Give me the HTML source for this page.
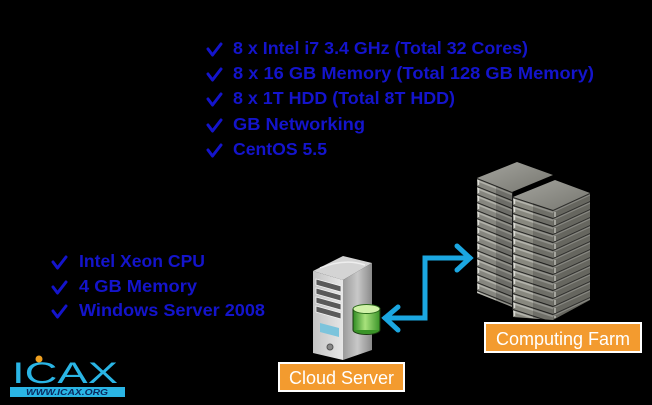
<!DOCTYPE html>
<html><head><meta charset="utf-8"><style>
html,body{margin:0;padding:0;background:#000;width:652px;height:405px;overflow:hidden}
svg{display:block}
</style></head><body>
<svg width="652" height="405" viewBox="0 0 652 405" xmlns="http://www.w3.org/2000/svg">
<defs>
<pattern id="slatA" patternUnits="userSpaceOnUse" x="0" y="3.2" width="300" height="8" patternTransform="skewY(21.8)">
<rect width="300" height="8" fill="#86867f"/>
<rect y="0" width="300" height="1.3" fill="#262624"/>
<rect y="1.3" width="300" height="2" fill="#b2b2aa"/>
</pattern>
<pattern id="slatB" patternUnits="userSpaceOnUse" x="0" y="6.3" width="300" height="8" patternTransform="skewY(18)">
<rect width="300" height="8" fill="#88887f"/>
<rect y="0" width="300" height="1.3" fill="#262624"/>
<rect y="1.3" width="300" height="2" fill="#b4b4ac"/>
</pattern>
<pattern id="slatR" patternUnits="userSpaceOnUse" x="0" y="0.4" width="300" height="8" patternTransform="skewY(-24.7)">
<rect width="300" height="8" fill="#66665f"/>
<rect y="0" width="300" height="1.2" fill="#2e2e2c"/>
<rect y="1.2" width="300" height="1.3" fill="#8a8a84"/>
</pattern>
<linearGradient id="topA" x1="0" y1="0" x2="1" y2="1">
<stop offset="0" stop-color="#a4a49e"/><stop offset="1" stop-color="#76766f"/>
</linearGradient>
<linearGradient id="front" x1="0" y1="0" x2="1" y2="0">
<stop offset="0" stop-color="#c4c4c4"/><stop offset="1" stop-color="#e6e6e6"/>
</linearGradient>
<linearGradient id="side" x1="0" y1="0" x2="1" y2="0">
<stop offset="0" stop-color="#9a9a9a"/><stop offset="0.5" stop-color="#c8c8c8"/><stop offset="1" stop-color="#8a8a8a"/>
</linearGradient>
<linearGradient id="cyl" x1="0" y1="0" x2="1" y2="0">
<stop offset="0" stop-color="#2e8a22"/><stop offset="0.45" stop-color="#a8e27c"/><stop offset="1" stop-color="#3a9428"/>
</linearGradient>
</defs>

<!-- Top list -->
<g fill="#1414cc" font-family="'Liberation Sans', sans-serif" font-weight="bold" font-size="17.5">
<text x="233" y="54" textLength="295" lengthAdjust="spacingAndGlyphs">8 x Intel i7 3.4 GHz (Total 32 Cores)</text>
<text x="233" y="79" textLength="361" lengthAdjust="spacingAndGlyphs">8 x 16 GB Memory (Total 128 GB Memory)</text>
<text x="233" y="104" textLength="222" lengthAdjust="spacingAndGlyphs">8 x 1T HDD (Total 8T HDD)</text>
<text x="233" y="130" textLength="132" lengthAdjust="spacingAndGlyphs">GB Networking</text>
<text x="233" y="155" textLength="94" lengthAdjust="spacingAndGlyphs">CentOS 5.5</text>
</g>
<g fill="none" stroke="#1414cc" stroke-width="3" stroke-linecap="round" stroke-linejoin="round">
<path d="M208,49 L212.5,55 L221,44"/>
<path d="M208,74 L212.5,80 L221,69"/>
<path d="M208,99 L212.5,105 L221,94"/>
<path d="M208,125 L212.5,131 L221,120"/>
<path d="M208,150 L212.5,156 L221,145"/>
</g>

<!-- Bottom-left list -->
<g fill="#1414cc" font-family="'Liberation Sans', sans-serif" font-weight="bold" font-size="17.5">
<text x="79" y="267" textLength="126" lengthAdjust="spacingAndGlyphs">Intel Xeon CPU</text>
<text x="79" y="292" textLength="118" lengthAdjust="spacingAndGlyphs">4 GB Memory</text>
<text x="79" y="316" textLength="186" lengthAdjust="spacingAndGlyphs">Windows Server 2008</text>
</g>
<g fill="none" stroke="#1414cc" stroke-width="3" stroke-linecap="round" stroke-linejoin="round">
<path d="M53,262 L57.5,268 L66,257"/>
<path d="M53,287 L57.5,293 L66,282"/>
<path d="M53,311 L57.5,317 L66,306"/>
</g>

<!-- Logo -->
<text x="12" y="383" textLength="106" lengthAdjust="spacingAndGlyphs" font-family="'Liberation Sans', sans-serif" font-size="30" fill="#2ab5e5">ICAX</text>
<circle cx="39" cy="359" r="3.5" fill="#f0a020"/>
<rect x="10" y="387" width="115" height="10" fill="#2ab5e5"/>
<text x="26" y="395" textLength="82" lengthAdjust="spacingAndGlyphs" font-family="'Liberation Sans', sans-serif" font-size="8" font-weight="bold" font-style="italic" fill="#0a2a60">WWW.ICAX.ORG</text>

<!-- Rack stack A (back) -->
<polygon points="477,178 517,162 553,175 512,192" fill="url(#topA)"/>
<polygon points="477,178 512,192 512,307 477,293" fill="url(#slatA)"/>
<polygon points="496,186 512,192 512,307 496,301" fill="#000" opacity="0.18"/>
<line x1="478.5" y1="180" x2="478.5" y2="293" stroke="#d8d8d2" stroke-width="1.5" stroke-dasharray="5,3"/>
<!-- Rack stack B (front) -->
<polygon points="513,197 555,180 590,193 553,210" fill="url(#topA)"/>
<polygon points="513,197 553,210 553,320 513,317" fill="url(#slatB)"/>
<polygon points="533,203 553,210 553,320 533,318" fill="#000" opacity="0.18"/>
<polygon points="553,210 590,193 590,300 553,320" fill="url(#slatR)"/>
<line x1="514.5" y1="199" x2="514.5" y2="317" stroke="#d8d8d2" stroke-width="1.5" stroke-dasharray="5,3"/>
<line x1="555" y1="212" x2="555" y2="318" stroke="#cfcfc8" stroke-width="1.2" stroke-dasharray="5,3"/>
<line x1="512.5" y1="192" x2="512.5" y2="310" stroke="#1a1a1a" stroke-width="1"/>

<!-- Cloud server tower -->
<polygon points="313,271 343,256 372,263 343,280" fill="#d4d4d4"/>
<path d="M320,268 Q345,258 365,265" fill="none" stroke="#eeeeee" stroke-width="1.5"/>
<polygon points="343,280 372,263 372,350 343,360" fill="url(#side)"/>
<polygon points="313,271 343,280 343,360 313,353" fill="url(#front)"/>
<g fill="#5a5a5a" stroke="#f4f4f4" stroke-width="0.8">
<polygon points="316,279 341,286 341,292 316,285"/>
<polygon points="316,288 341,295 341,301 316,294"/>
<polygon points="316,297 341,304 341,310 316,303"/>
<polygon points="316,306 341,313 341,319 316,312"/>
</g>
<polygon points="320,323 339,328 339,337 320,332" fill="#7cc4dc"/>
<circle cx="330" cy="347" r="3" fill="#888" stroke="#555" stroke-width="1"/>

<!-- Cylinder -->
<ellipse cx="366.5" cy="330" rx="13.5" ry="4.5" fill="#3a9428"/>
<rect x="353" y="309" width="27" height="21" fill="url(#cyl)"/>
<ellipse cx="366.5" cy="309" rx="13.5" ry="4.5" fill="#d0f2a8" stroke="#2a6a1a" stroke-width="1"/>
<path d="M353,309 L353,330 A13.5,4.5 0 0 0 380,330 L380,309" fill="none" stroke="#1a3a10" stroke-width="1"/>

<!-- Arrow -->
<g fill="none" stroke="#1ba7e1" stroke-width="5" stroke-linecap="round" stroke-linejoin="miter">
<path d="M385,318 L425,318 L425,258 L470,258"/>
<path d="M398,307 L385,318 L398,330"/>
<path d="M457,246 L470,258 L457,270"/>
</g>

<!-- Labels -->
<rect x="485" y="323" width="156" height="29" fill="#f39b2f" stroke="#ffffff" stroke-width="2"/>
<text x="563" y="345" text-anchor="middle" font-family="'Liberation Sans', sans-serif" font-size="18" fill="#ffffff">Computing Farm</text>
<rect x="279" y="363" width="125" height="28" fill="#f39b2f" stroke="#ffffff" stroke-width="2"/>
<text x="341.5" y="384" text-anchor="middle" font-family="'Liberation Sans', sans-serif" font-size="18" fill="#ffffff">Cloud Server</text>
</svg>
</body></html>
